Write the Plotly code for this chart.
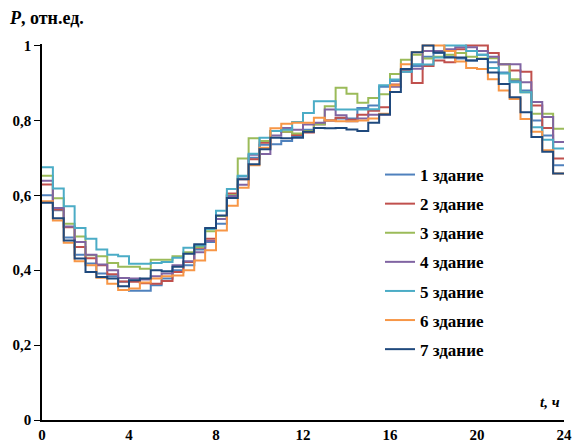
import plotly.graph_objects as go

# Half-hour time grid (start of each interval), hours
hours = [i * 0.5 for i in range(48)]

# Relative load profiles P (fraction of daily maximum) for seven buildings
building_1 = [0.600, 0.560, 0.487, 0.441, 0.418, 0.391, 0.384, 0.369, 0.345, 0.345, 0.360, 0.378,
              0.400, 0.413, 0.455, 0.475, 0.524, 0.600, 0.650, 0.700, 0.735, 0.736, 0.745, 0.758,
              0.775, 0.790, 0.800, 0.805, 0.805, 0.833, 0.840, 0.890, 0.905, 0.935, 0.945, 0.970,
              0.980, 0.970, 0.965, 0.960, 0.975, 0.955, 0.928, 0.905, 0.880, 0.800, 0.760, 0.680]
building_2 = [0.629, 0.562, 0.515, 0.462, 0.432, 0.413, 0.389, 0.370, 0.369, 0.365, 0.364, 0.371,
              0.395, 0.422, 0.460, 0.484, 0.537, 0.605, 0.643, 0.696, 0.740, 0.772, 0.770, 0.761,
              0.768, 0.790, 0.800, 0.807, 0.802, 0.815, 0.826, 0.835, 0.896, 0.935, 0.900, 0.945,
              0.960, 0.955, 0.990, 1.000, 1.000, 0.980, 0.950, 0.933, 0.930, 0.840, 0.780, 0.698]
building_3 = [0.652, 0.592, 0.524, 0.490, 0.440, 0.437, 0.419, 0.409, 0.409, 0.404, 0.428, 0.428,
              0.437, 0.448, 0.462, 0.504, 0.545, 0.600, 0.698, 0.752, 0.745, 0.772, 0.770, 0.765,
              0.772, 0.790, 0.838, 0.887, 0.871, 0.847, 0.860, 0.870, 0.924, 0.962, 0.975, 0.965,
              0.970, 0.975, 0.980, 0.970, 0.965, 0.966, 0.950, 0.910, 0.875, 0.818, 0.818, 0.778]
building_4 = [0.639, 0.566, 0.517, 0.475, 0.441, 0.415, 0.400, 0.379, 0.378, 0.375, 0.384, 0.391,
              0.413, 0.424, 0.448, 0.478, 0.537, 0.598, 0.628, 0.708, 0.710, 0.760, 0.780, 0.775,
              0.789, 0.794, 0.829, 0.814, 0.798, 0.805, 0.815, 0.815, 0.890, 0.930, 0.938, 0.985,
              0.985, 0.990, 0.995, 0.995, 0.985, 0.970, 0.950, 0.950, 0.902, 0.849, 0.809, 0.742]
building_5 = [0.675, 0.618, 0.571, 0.513, 0.484, 0.455, 0.441, 0.437, 0.417, 0.417, 0.419, 0.422,
              0.433, 0.460, 0.466, 0.510, 0.559, 0.617, 0.652, 0.711, 0.754, 0.772, 0.775, 0.796,
              0.820, 0.851, 0.851, 0.829, 0.829, 0.829, 0.830, 0.894, 0.909, 0.930, 0.950, 0.949,
              0.968, 1.000, 1.000, 0.985, 0.975, 0.940, 0.925, 0.902, 0.875, 0.782, 0.748, 0.725]
building_6 = [0.584, 0.533, 0.473, 0.424, 0.413, 0.380, 0.364, 0.347, 0.351, 0.367, 0.378, 0.384,
              0.386, 0.400, 0.426, 0.453, 0.506, 0.572, 0.620, 0.680, 0.727, 0.779, 0.791, 0.794,
              0.794, 0.807, 0.800, 0.798, 0.798, 0.800, 0.805, 0.818, 0.894, 0.950, 0.982, 1.000,
              1.000, 0.985, 0.957, 0.940, 0.937, 0.910, 0.880, 0.857, 0.804, 0.770, 0.720, 0.658]
building_7 = [0.580, 0.539, 0.479, 0.431, 0.395, 0.382, 0.378, 0.357, 0.373, 0.378, 0.400, 0.397,
              0.409, 0.444, 0.469, 0.513, 0.546, 0.593, 0.643, 0.683, 0.723, 0.754, 0.752, 0.754,
              0.770, 0.780, 0.779, 0.780, 0.776, 0.772, 0.794, 0.816, 0.876, 0.937, 0.982, 1.000,
              0.981, 0.968, 0.968, 0.960, 0.964, 0.928, 0.897, 0.862, 0.822, 0.756, 0.716, 0.658]

series_names = ["1 здание", "2 здание", "3 здание", "4 здание", "5 здание", "6 здание", "7 здание"]
series_values = [building_1, building_2, building_3, building_4, building_5, building_6, building_7]
series_colors = ["#4F81BD", "#C0504D", "#9BBB59", "#8064A2", "#4BACC6", "#F79646", "#1F497D"]

x_ticks = [0, 4, 8, 12, 16, 20, 24]
y_ticks = [0, 0.2, 0.4, 0.6, 0.8, 1]

FONT = "Liberation Serif, Times New Roman, serif"

fig = go.Figure()
for i, (name, vals, color) in enumerate(zip(series_names, series_values, series_colors)):
    # step line: each value holds for its half-hour interval, closing at 24 h
    fig.add_trace(go.Scatter(
        x=hours + [24],
        y=vals + [vals[-1]],
        mode="lines",
        line=dict(shape="hv", color=color, width=2),
        name=name,
        legendgroup=f"g{i}",
    ))

W, H = 574, 443
L, R, T, B = 42, 10, 44, 23

fig.update_layout(
    width=W, height=H,
    margin=dict(l=L, r=R, t=T, b=B, autoexpand=False),
    paper_bgcolor="white", plot_bgcolor="white",
    separators=", ",
    font=dict(family=FONT, size=14, color="black"),
    legend=dict(
        x=(380 - L) / (W - L - R), y=(420 - 157) / (H - T - B),
        xanchor="left", yanchor="top",
        font=dict(family=FONT, size=17, color="black", weight="bold"),
        bgcolor="rgba(0,0,0,0)",
        tracegroupgap=4,
        itemwidth=30,
    ),
    xaxis=dict(
        range=[0, 24], tickvals=x_ticks, ticks="", showgrid=False, zeroline=False,
        showline=True, linecolor="black", linewidth=1.5, automargin=False,
        tickfont=dict(family=FONT, size=15, weight="bold"),
    ),
    yaxis=dict(
        range=[0, 1.004], tickvals=y_ticks, ticks="outside", ticklen=6, tickcolor="black",
        showgrid=False, zeroline=False, automargin=False,
        showline=True, linecolor="black", linewidth=1.5,
        tickfont=dict(family=FONT, size=15, weight="bold"),
    ),
    annotations=[
        dict(xref="paper", yref="paper",
             x=(7 - L) / (W - L - R), y=(420 - 18) / (H - T - B),
             xanchor="left", yanchor="middle", showarrow=False,
             text="<b><i>P</i>, отн.ед.</b>",
             font=dict(family=FONT, size=18, color="black")),
        dict(xref="x", yref="y", x=24, y=0, xanchor="right", yanchor="bottom",
             yshift=8, xshift=-2, showarrow=False,
             text="<b><i>t, ч</i></b>",
             font=dict(family=FONT, size=15, color="black")),
    ],
)

fig.write_html("out.html")
